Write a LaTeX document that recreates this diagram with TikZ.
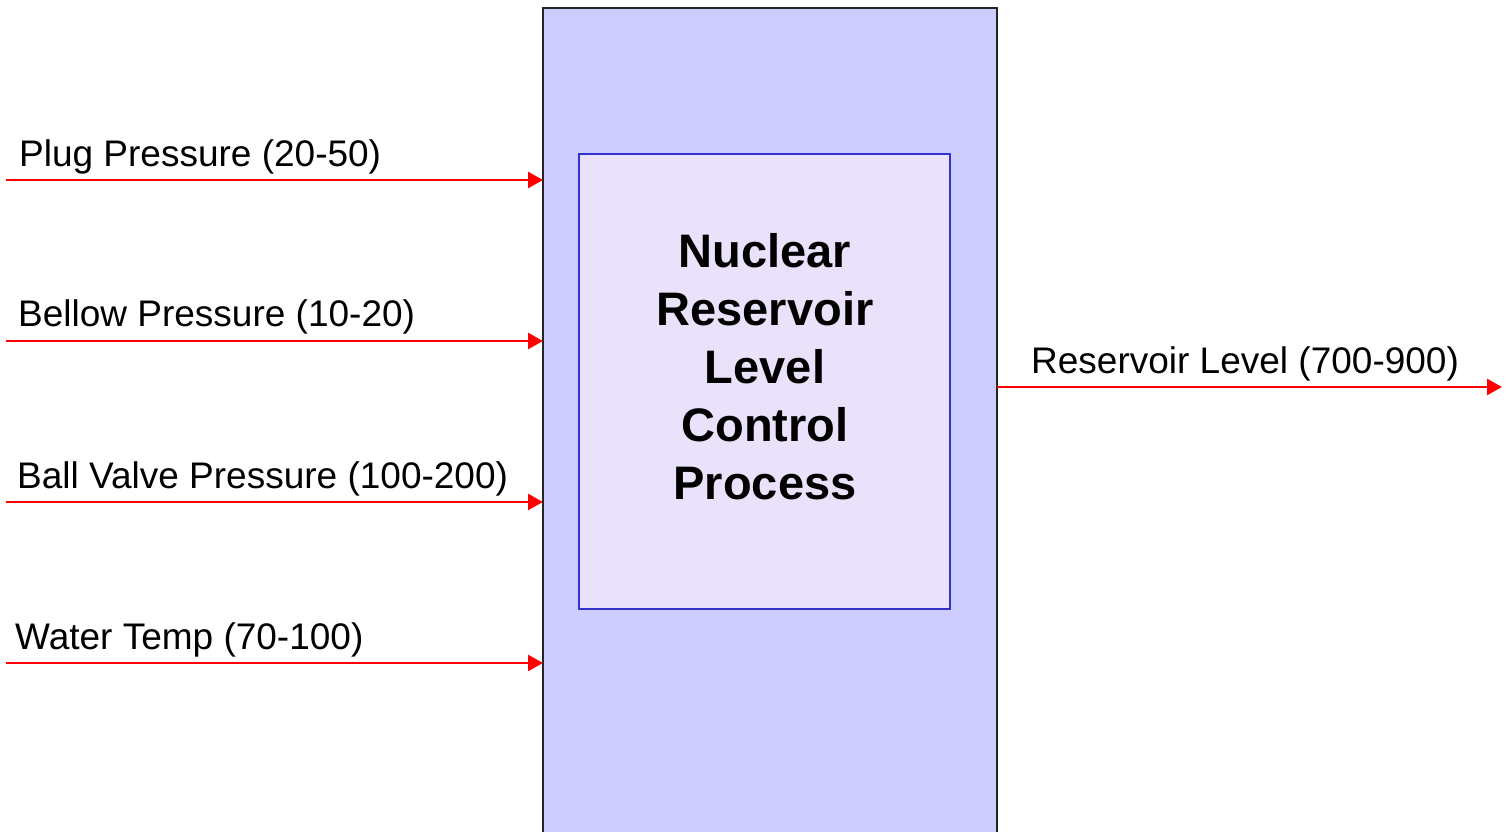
\documentclass[tikz,border=0pt]{standalone}
\usepackage{fontspec}
\setmainfont{Liberation Sans}
\usetikzlibrary{arrows.meta}
\definecolor{outerfill}{HTML}{CCCCFF}
\definecolor{innerfill}{HTML}{EAE2FA}
\definecolor{innerdraw}{HTML}{3333CC}
\definecolor{arrowred}{HTML}{FF0000}
\tikzset{
  outerbox/.style={draw=black!85, line width=1.8pt, fill=outerfill, inner sep=0pt, outer sep=0pt},
  innerbox/.style={draw=innerdraw, line width=1.8pt, fill=innerfill, inner sep=0pt, outer sep=0pt},
  sig/.style={draw=arrowred, line width=2.6pt, -{Triangle[length=15pt,width=16pt]}},
  lbl/.style={anchor=base west, inner sep=0pt, font=\fontsize{37}{44}\selectfont},
  title/.style={align=center, inner sep=0pt, font=\fontsize{47}{58}\selectfont\bfseries}
}
\begin{document}
\begin{tikzpicture}[x=1pt,y=-1pt]
\useasboundingbox (0,0) rectangle (1510,832);
\path[outerbox] (543,8) rectangle (997,850);
\node[inner sep=0pt, outer sep=0pt, minimum width=454pt, minimum height=842pt, anchor=north west] (outer) at (543,8) {};
\node[innerbox, minimum width=371pt, minimum height=455pt, anchor=north west] (inner) at (579,154) {};
\node[title] (t) at (765,367) {Nuclear\\Reservoir\\Level\\Control\\Process};
\coordinate (s1) at (6,180);
\coordinate (s2) at (6,341);
\coordinate (s3) at (6,502);
\coordinate (s4) at (6,663);
\coordinate (o1) at (1502,387);
\draw[sig] (s1) -- (s1 -| outer.west);
\draw[sig] (s2) -- (s2 -| outer.west);
\draw[sig] (s3) -- (s3 -| outer.west);
\draw[sig] (s4) -- (s4 -| outer.west);
\draw[sig] (o1 -| outer.east) -- (o1);
\node[lbl] (l1) at (19,167) {Plug Pressure (20-50)};
\node[lbl] (l2) at (18,326) {Bellow Pressure (10-20)};
\node[lbl] (l3) at (17,488) {Ball Valve Pressure (100-200)};
\node[lbl] (l4) at (15,649) {Water Temp (70-100)};
\node[lbl] (l5) at (1031,373) {Reservoir Level (700-900)};
\end{tikzpicture}
\end{document}
